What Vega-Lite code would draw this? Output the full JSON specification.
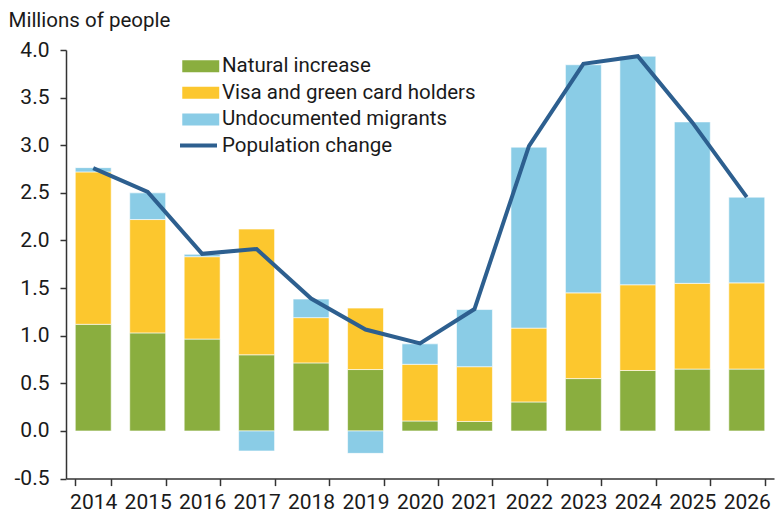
{
  "$schema": "https://vega.github.io/schema/vega-lite/v6.json",
  "autosize": "none",
  "width": 708,
  "height": 428.6,
  "padding": {"left": 66, "top": 50, "right": 5, "bottom": 35.4},
  "background": "white",
  "config": {
    "font": "Roboto",
    "view": {"stroke": null},
    "axis": {"labelFont": "Roboto", "labelFontSize": 21, "labelColor": "#1a1a1a", "domainColor": "#333333", "tickColor": "#333333", "grid": false, "domainWidth": 1.5, "tickWidth": 1.5},
    "legend": {"labelFont": "Roboto", "labelFontSize": 20.5, "labelColor": "#1a1a1a", "padding": 0, "labelLimit": 0}
  },
  "datasets": {
    "bars": [
      {"year": "2014", "series": "Natural increase", "k": 1, "value": 1.12},
      {"year": "2014", "series": "Visa and green card holders", "k": 2, "value": 1.60},
      {"year": "2014", "series": "Undocumented migrants", "k": 3, "value": 0.045},
      {"year": "2015", "series": "Natural increase", "k": 1, "value": 1.03},
      {"year": "2015", "series": "Visa and green card holders", "k": 2, "value": 1.19},
      {"year": "2015", "series": "Undocumented migrants", "k": 3, "value": 0.28},
      {"year": "2016", "series": "Natural increase", "k": 1, "value": 0.965},
      {"year": "2016", "series": "Visa and green card holders", "k": 2, "value": 0.865},
      {"year": "2016", "series": "Undocumented migrants", "k": 3, "value": 0.025},
      {"year": "2017", "series": "Natural increase", "k": 1, "value": 0.80},
      {"year": "2017", "series": "Visa and green card holders", "k": 2, "value": 1.32},
      {"year": "2017", "series": "Undocumented migrants", "k": 3, "value": -0.21},
      {"year": "2018", "series": "Natural increase", "k": 1, "value": 0.715},
      {"year": "2018", "series": "Visa and green card holders", "k": 2, "value": 0.475},
      {"year": "2018", "series": "Undocumented migrants", "k": 3, "value": 0.195},
      {"year": "2019", "series": "Natural increase", "k": 1, "value": 0.645},
      {"year": "2019", "series": "Visa and green card holders", "k": 2, "value": 0.645},
      {"year": "2019", "series": "Undocumented migrants", "k": 3, "value": -0.235},
      {"year": "2020", "series": "Natural increase", "k": 1, "value": 0.105},
      {"year": "2020", "series": "Visa and green card holders", "k": 2, "value": 0.595},
      {"year": "2020", "series": "Undocumented migrants", "k": 3, "value": 0.215},
      {"year": "2021", "series": "Natural increase", "k": 1, "value": 0.10},
      {"year": "2021", "series": "Visa and green card holders", "k": 2, "value": 0.575},
      {"year": "2021", "series": "Undocumented migrants", "k": 3, "value": 0.60},
      {"year": "2022", "series": "Natural increase", "k": 1, "value": 0.305},
      {"year": "2022", "series": "Visa and green card holders", "k": 2, "value": 0.775},
      {"year": "2022", "series": "Undocumented migrants", "k": 3, "value": 1.90},
      {"year": "2023", "series": "Natural increase", "k": 1, "value": 0.55},
      {"year": "2023", "series": "Visa and green card holders", "k": 2, "value": 0.90},
      {"year": "2023", "series": "Undocumented migrants", "k": 3, "value": 2.395},
      {"year": "2024", "series": "Natural increase", "k": 1, "value": 0.635},
      {"year": "2024", "series": "Visa and green card holders", "k": 2, "value": 0.90},
      {"year": "2024", "series": "Undocumented migrants", "k": 3, "value": 2.40},
      {"year": "2025", "series": "Natural increase", "k": 1, "value": 0.65},
      {"year": "2025", "series": "Visa and green card holders", "k": 2, "value": 0.90},
      {"year": "2025", "series": "Undocumented migrants", "k": 3, "value": 1.695},
      {"year": "2026", "series": "Natural increase", "k": 1, "value": 0.65},
      {"year": "2026", "series": "Visa and green card holders", "k": 2, "value": 0.905},
      {"year": "2026", "series": "Undocumented migrants", "k": 3, "value": 0.90}
    ],
    "line": [
      {"year": "2014", "total": 2.76},
      {"year": "2015", "total": 2.51},
      {"year": "2016", "total": 1.86},
      {"year": "2017", "total": 1.91},
      {"year": "2018", "total": 1.39},
      {"year": "2019", "total": 1.065},
      {"year": "2020", "total": 0.92},
      {"year": "2021", "total": 1.28},
      {"year": "2022", "total": 2.99},
      {"year": "2023", "total": 3.855},
      {"year": "2024", "total": 3.935},
      {"year": "2025", "total": 3.24},
      {"year": "2026", "total": 2.455}
    ]
  },
  "encoding": {
    "x": {
      "field": "year", "type": "ordinal", "title": null,
      "scale": {"paddingInner": 0.34, "paddingOuter": 0.17},
      "axis": {"labelAngle": 0, "tickBand": "extent", "tickSize": 7, "labelPadding": 6, "offset": 0}
    }
  },
  "layer": [
    {
      "data": {"name": "bars"},
      "mark": {"type": "bar", "stroke": "#ffffff", "strokeWidth": 0.6},
      "encoding": {
        "y": {
          "field": "value", "type": "quantitative", "stack": "zero",
          "scale": {"domain": [-0.5, 4.0], "nice": false, "zero": false},
          "axis": {
            "values": [-0.5, 0, 0.5, 1, 1.5, 2, 2.5, 3, 3.5, 4],
            "labelExpr": "replace(format(datum.value, '.1f'), '\u2212', '-')",
            "tickSize": 6, "labelPadding": 11,
            "title": "Millions of people", "titleAngle": 0, "titleAlign": "left", "titleBaseline": "alphabetic",
            "titleX": -58, "titleY": -24, "titleFont": "Roboto", "titleFontSize": 20.5, "titleFontWeight": "normal", "titleColor": "#1a1a1a"
          }
        },
        "fill": {
          "field": "series", "type": "nominal",
          "scale": {
            "domain": ["Natural increase", "Visa and green card holders", "Undocumented migrants"],
            "range": ["#8aae3f", "#fcc72e", "#8acce6"]
          },
          "legend": {
            "title": null, "orient": "none", "legendX": 124.5, "legendY": 6,
            "symbolType": "M-3.08,-1H3.08V1H-3.08Z", "symbolSize": 144, "symbolStrokeWidth": 0,
            "labelOffset": 11, "rowPadding": 5.6
          }
        },
        "order": {"field": "k", "type": "quantitative"}
      }
    },
    {
      "mark": {"type": "rule", "color": "#333333", "strokeWidth": 1.2},
      "encoding": {"y": {"datum": 0}}
    },
    {
      "data": {"name": "line"},
      "mark": {"type": "line", "strokeWidth": 4, "strokeJoin": "miter"},
      "encoding": {
        "y": {"field": "total", "type": "quantitative"},
        "stroke": {
          "datum": "Population change",
          "scale": {"domain": ["Population change"], "range": ["#2d5f8f"]},
          "legend": {
            "title": null, "orient": "none", "legendX": 112, "legendY": 75,
            "symbolType": "stroke", "symbolSize": 1369, "symbolStrokeWidth": 4,
            "labelOffset": 3
          }
        }
      }
    }
  ],
  "resolve": {"scale": {"y": "shared"}}
}
